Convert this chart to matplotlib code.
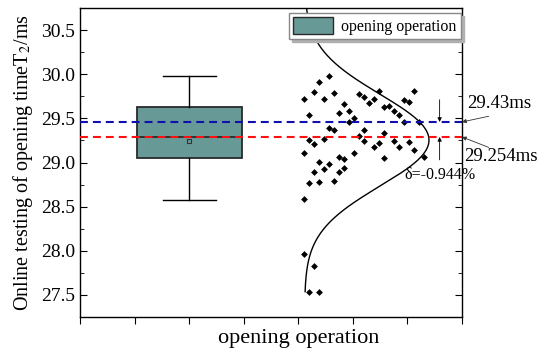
import matplotlib
matplotlib.use("Agg")
import matplotlib.pyplot as plt
import numpy as np
from matplotlib.patches import Patch

plt.rcParams['font.family'] = ['Liberation Serif', 'DejaVu Serif']
plt.rcParams['mathtext.fontset'] = 'stix'

# box statistics
box_label = "opening operation"
box_pos = 2
q1, q3 = 29.047, 29.632
median = 29.289
whislo, whishi = 28.575, 29.979
mean_val = 29.247

# reference lines
blue_val = 29.46
red_val = 29.29
blue_text = "29.43ms"
red_text = "29.254ms"
delta_text = "δ=-0.944%"

# scattered raw points (x jitter position, value)
pts_x = [4.10, 4.19, 4.28, 4.38, 4.47, 4.56, 4.65, 4.74, 4.84, 4.93,
         5.02, 5.11, 5.20, 5.30, 5.39, 5.48, 5.57, 5.66, 5.76, 5.85,
         5.94, 6.03, 6.12, 5.94, 6.21, 4.93, 4.56, 4.65, 5.20, 5.57,
         5.11, 4.19, 4.28, 4.47, 4.10, 4.38, 4.56, 4.74, 4.84, 5.02,
         5.20, 5.39, 5.48, 5.57, 5.76, 5.85, 6.03, 6.12, 6.30, 4.28,
         4.47, 4.74, 4.84, 4.19, 4.38, 4.65, 4.10, 4.10, 4.28, 4.19,
         4.38]
pts_y = [29.719, 29.538, 29.798, 29.917, 29.719, 29.976, 29.792, 29.560, 29.662, 29.583,
         29.504, 29.772, 29.747, 29.674, 29.719, 29.809, 29.625, 29.640, 29.589, 29.543,
         29.713, 29.691, 29.809, 29.464, 29.458, 29.455, 29.396, 29.368, 29.374, 29.340,
         29.300, 29.255, 29.215, 29.263, 29.113, 29.006, 28.980, 29.059, 29.043, 29.107,
         29.243, 29.179, 29.226, 29.051, 29.243, 29.181, 29.232, 29.141, 29.062, 28.896,
         28.926, 28.896, 28.934, 28.768, 28.779, 28.790, 28.583, 27.961, 27.828, 27.537,
         27.537]

# normal curve fitted to the points
curve_mean = 29.254
curve_std = 0.52
curve_base = 4.115
curve_amp = 2.28

box_color = "#679a97"

fig = plt.figure(figsize=(5.5, 3.53), dpi=100)
ax = fig.add_axes([0.1455, 0.102, 0.6945, 0.875])

stats = [dict(q1=q1, q3=q3, med=median, whislo=whislo, whishi=whishi,
              mean=mean_val, fliers=[], label=box_label)]
ax.bxp(stats, positions=[box_pos], widths=1.92, patch_artist=True,
       showmeans=True, showfliers=False,
       boxprops=dict(facecolor=box_color, edgecolor="#2a2a2a", linewidth=1.3),
       medianprops=dict(color="#2a2a2a", linewidth=1.3),
       whiskerprops=dict(color="black", linewidth=1.0),
       capprops=dict(color="black", linewidth=1.0),
       capwidths=0.97,
       meanprops=dict(marker="s", markerfacecolor="none",
                      markeredgecolor="#333333", markersize=3.5, markeredgewidth=0.8),
       zorder=2)

ax.scatter(pts_x, pts_y, marker="D", s=12, color="black", zorder=3, linewidths=0)

yy = np.linspace(min(pts_y), 30.75, 300)
xx = curve_base + curve_amp * np.exp(-(yy - curve_mean) ** 2 / (2 * curve_std ** 2))
ax.plot(xx, yy, color="black", linewidth=1.0, zorder=4)

ax.axhline(blue_val, color="#1010b0", linewidth=1.5, dashes=(3.8, 2.4), zorder=5)
ax.axhline(red_val, color="#ff1010", linewidth=1.5, dashes=(3.8, 2.4), zorder=5)

ax.set_xlim(0, 7)
ax.set_ylim(27.25, 30.75)
ax.set_xticks(range(8))
ax.set_xticklabels(["", "", "", "", box_label, "", "", ""])
ax.set_yticks([27.5, 28.0, 28.5, 29.0, 29.5, 30.0, 30.5])
ax.set_yticks(np.arange(27.25, 30.76, 0.25), minor=True)
ax.tick_params(axis="y", which="both", direction="in", left=True, right=True,
               labelsize=14)
ax.tick_params(axis="y", which="major", length=5)
ax.tick_params(axis="y", which="minor", length=3)
ax.tick_params(axis="x", which="major", direction="out", length=5, labelsize=16, pad=4)
for s in ax.spines.values():
    s.set_linewidth(1.0)

ax.set_ylabel("Online testing of opening timeT$_2$/ms", fontsize=14.5, labelpad=4)

# legend with shadow
h = Patch(facecolor=box_color, edgecolor="#2a2a2a", linewidth=1.0)
leg = ax.legend([h], [box_label], loc="upper right", bbox_to_anchor=(0.997, 0.983),
                borderaxespad=0, fancybox=False,
                shadow={"color": "#b0b0b0", "alpha": 1.0},
                fontsize=11.5,
                handlelength=2.55, handleheight=1.2, handletextpad=0.5,
                borderpad=0.25, framealpha=1, edgecolor="#888888")
leg.set_zorder(10)

# annotations
arrow_kw = dict(arrowstyle="-|>", color="#333333", lw=0.6, mutation_scale=6,
                shrinkA=0, shrinkB=0)
ax.annotate("", xy=(7, blue_val), xytext=(19.2, 4.1), textcoords="offset points",
            arrowprops=arrow_kw, annotation_clip=False)
ax.annotate("", xy=(7, red_val), xytext=(19.2, -7.5), textcoords="offset points",
            arrowprops=arrow_kw, annotation_clip=False)
ax.text(7.1, 29.67, blue_text, fontsize=13.5, ha="left", va="center", clip_on=False)
ax.text(7.03, 29.07, red_text, fontsize=13.5, ha="left", va="center", clip_on=False)

vx = 6.59
ax.annotate("", xy=(vx, blue_val), xytext=(0, 16), textcoords="offset points",
            arrowprops=dict(arrowstyle="-|>", color="black", lw=0.6,
                            mutation_scale=6, shrinkA=0, shrinkB=0))
ax.annotate("", xy=(vx, red_val), xytext=(0, -16.5), textcoords="offset points",
            arrowprops=dict(arrowstyle="-|>", color="black", lw=0.6,
                            mutation_scale=6, shrinkA=0, shrinkB=0))
ax.text(5.95, 28.86, delta_text, fontsize=11.5, ha="left", va="center", clip_on=False,
        zorder=6)

fig.savefig("out.png", dpi=100)
